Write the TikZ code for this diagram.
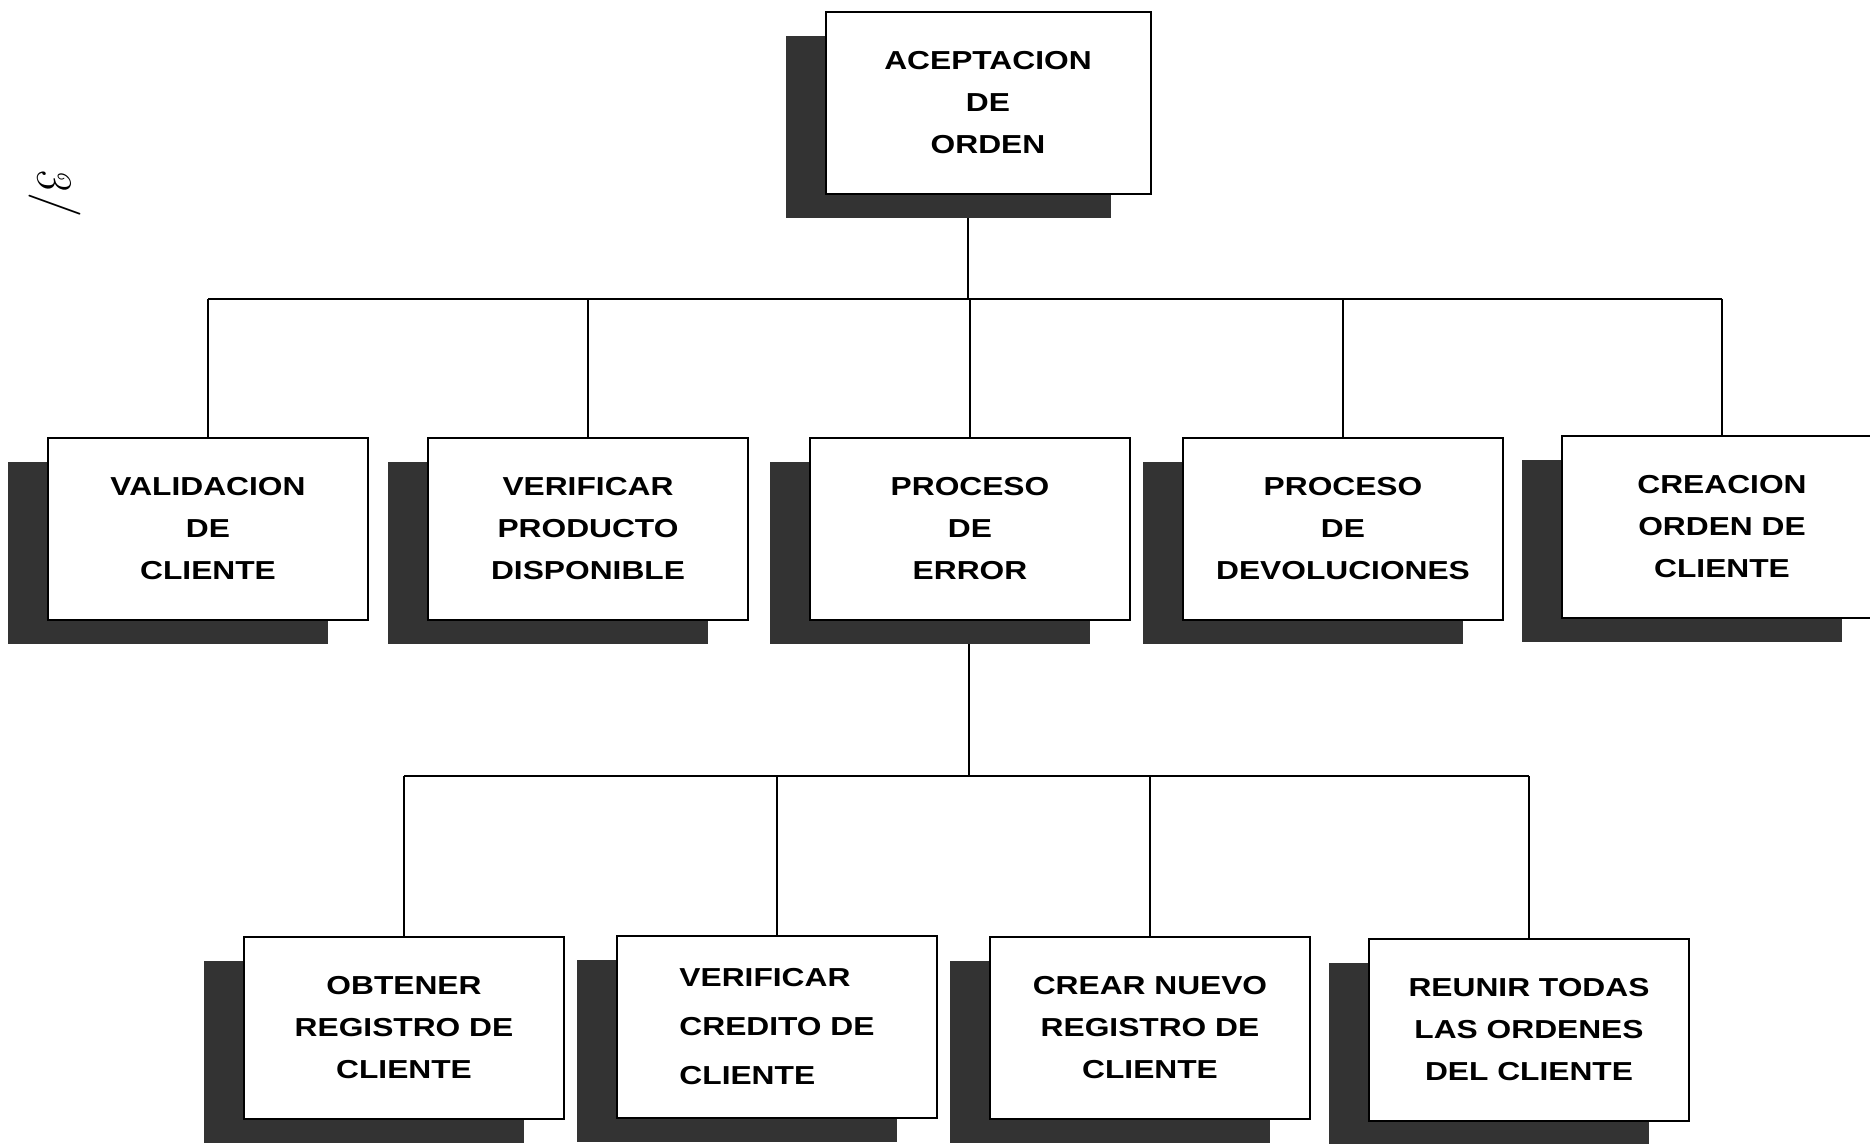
\documentclass[tikz,border=0pt]{standalone}
\usepackage{fontspec}
\newfontfamily\boxfont{Liberation Sans}[FakeStretch=1.22]
\usetikzlibrary{shadows,backgrounds}
\begin{document}
\begin{tikzpicture}[x=0.5pt,y=-0.5pt,
  card/.style={draw=black, line width=1pt, fill=white,
    minimum width=160pt, minimum height=91pt, inner sep=0pt, align=center,
    font=\boxfont\bfseries\fontsize{13}{21}\selectfont,
    general shadow={fill=black!80, shadow xshift=-20pt, shadow yshift=-12pt}},
  wire/.style={line width=1.3pt}]
\useasboundingbox (0,0) rectangle (1870,1144);

% top
\node[card, minimum width=162.5pt] (top) at (988,103) {ACEPTACION\\DE\\ORDEN};
% middle row
\node[card] (m1) at (208,529) {VALIDACION\\DE\\CLIENTE};
\node[card] (m2) at (588,529) {VERIFICAR\\PRODUCTO\\DISPONIBLE};
\node[card] (m3) at (970,529) {PROCESO\\DE\\ERROR};
\node[card] (m4) at (1343,529) {PROCESO\\DE\\DEVOLUCIONES};
\node[card] (m5) at (1722,527) {CREACION\\ORDEN DE\\CLIENTE};
% bottom row
\node[card] (b1) at (404,1028) {OBTENER\\REGISTRO DE\\CLIENTE};
\node[card, align=left, font=\boxfont\bfseries\fontsize{13}{24.5}\selectfont] (b2) at (777,1027) {VERIFICAR\\CREDITO DE\\CLIENTE};
\node[card] (b3) at (1150,1028) {CREAR NUEVO\\REGISTRO DE\\CLIENTE};
\node[card] (b4) at (1529,1030) {REUNIR TODAS\\LAS ORDENES\\DEL CLIENTE};

% handwritten page mark
\node[rotate=-80, font=\itshape\fontsize{24}{24}\selectfont] (mark) at (52,190) {3/};

\begin{pgfonlayer}{background}
  \fill[white] (0,0) rectangle (1870,1144);
  \coordinate (j1) at (968,299);
  \coordinate (j2) at (969,776);
  \draw[wire] (top.south -| j1) -- (j1);
  \draw[wire] (m1.north |- j1) -- (m5.north |- j1);
  \foreach \n in {m1,m2,m3,m4,m5} \draw[wire] (\n.north |- j1) -- (\n.north);
  \draw[wire] (m3.south -| j2) -- (j2);
  \draw[wire] (b1.north |- j2) -- (b4.north |- j2);
  \foreach \n in {b1,b2,b3,b4} \draw[wire] (\n.north |- j2) -- (\n.north);
\end{pgfonlayer}
\end{tikzpicture}
\end{document}
